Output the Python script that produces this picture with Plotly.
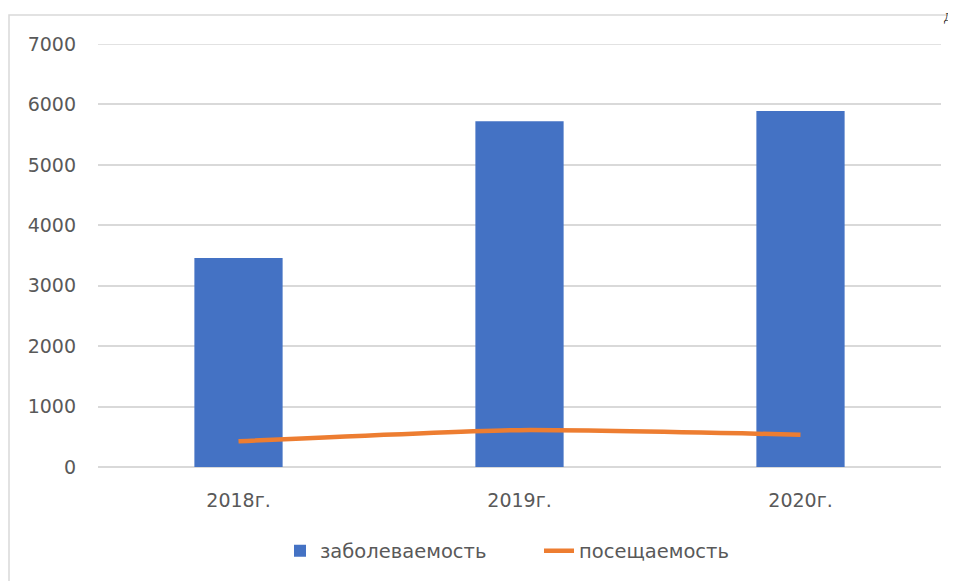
import plotly.graph_objects as go

categories = ["2018г.", "2019г.", "2020г."]
morbidity = [3460, 5720, 5890]      # заболеваемость
attendance = [425, 610, 535]        # посещаемость
y_ticks = [0, 1000, 2000, 3000, 4000, 5000, 6000, 7000]

FONT = "DejaVu Sans"
GRAY = "#595959"

OFF = 8  # default body margin of the page
W, H = 956 - OFF, 581 - OFF
L = 98 - OFF
T = 44 - OFF
R = W - (941 - OFF)
B = H - (468 - OFF)
pw, ph = W - L - R, H - T - B


def px(xs):
    return (xs - OFF - L) / pw


def py(ys):
    return (H - B - (ys - OFF)) / ph


fig = go.Figure()
fig.add_trace(go.Bar(
    x=categories, y=morbidity, name="заболеваемость",
    marker=dict(color="#4472C4", line=dict(width=0)),
))
fig.add_trace(go.Scatter(
    x=categories, y=attendance, name="посещаемость", mode="lines",
    line=dict(color="#ED7D31", width=4.5, shape="spline", smoothing=0.5),
))

fig.update_layout(
    width=W, height=H,
    margin=dict(l=L, r=R, t=T, b=B, pad=0),
    plot_bgcolor="white", paper_bgcolor="white",
    bargap=0.686,
    font=dict(family=FONT, size=19, color=GRAY),
    showlegend=True,
    legend=dict(orientation="h", x=px(280), xanchor="left", y=py(551), yanchor="middle",
                font=dict(family=FONT, size=19.5, color=GRAY),
                entrywidth=214, entrywidthmode="pixels",
                traceorder="normal", bgcolor="rgba(0,0,0,0)"),
    xaxis=dict(showgrid=False, showline=False, ticks="", zeroline=False,
               ticklabelstandoff=20,
               tickfont=dict(family=FONT, size=19, color=GRAY)),
    yaxis=dict(range=[0, 7000], tickvals=y_ticks, showgrid=True, gridcolor="#D9D9D9",
               gridwidth=1.5, zeroline=True, zerolinecolor="#D9D9D9", zerolinewidth=1.5,
               showline=False, ticks="", ticklabelstandoff=21,
               tickfont=dict(family=FONT, size=19, color=GRAY)),
    shapes=[
        dict(type="rect", xref="paper", yref="paper",
             x0=px(9), x1=px(965), y0=py(15), y1=py(590),
             line=dict(color="#D9D9D9", width=1.5), fillcolor="rgba(0,0,0,0)",
             layer="below"),
        dict(type="line", xref="paper", yref="y", x0=0, x1=1, y0=7000, y1=7000,
             line=dict(color="#D9D9D9", width=1.5), layer="below"),
    ],
    annotations=[dict(text="Д", xref="paper", yref="paper", x=px(942), y=py(8),
                      xanchor="left", yanchor="top", showarrow=False,
                      font=dict(family="Liberation Serif", size=12, color="black"))],
)

fig.write_html("out.html")
